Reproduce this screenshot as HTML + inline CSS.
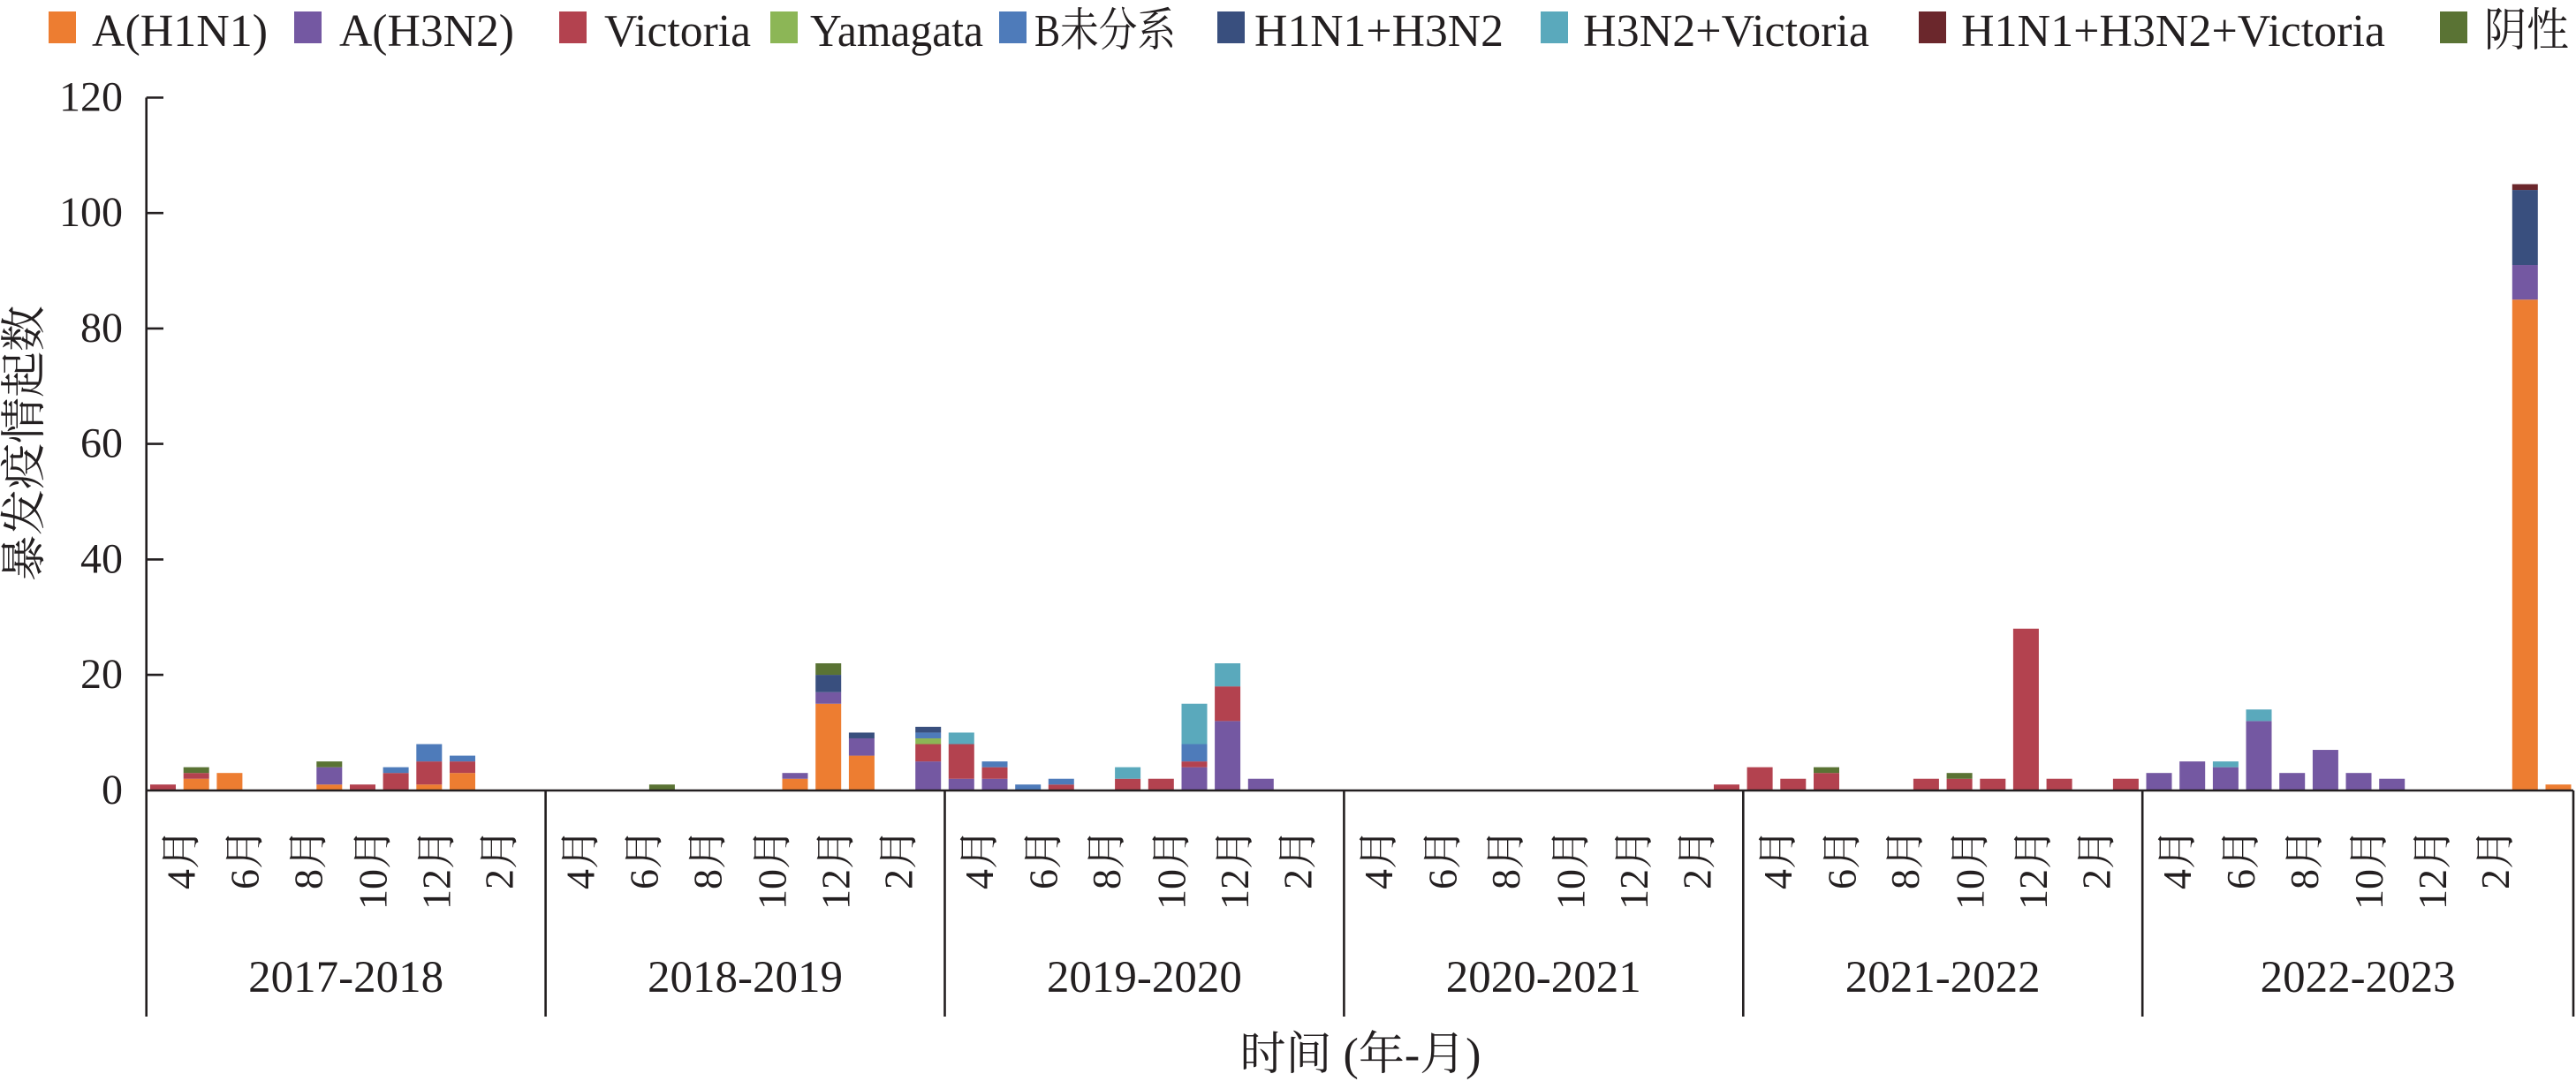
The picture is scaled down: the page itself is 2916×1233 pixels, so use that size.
<!DOCTYPE html>
<html><head><meta charset="utf-8"><style>
html,body{margin:0;padding:0;background:#fff;}
svg{display:block;}
text{font-family:"Liberation Serif","Noto Serif CJK SC","Noto Sans CJK SC",serif;fill:#231f20;}
</style></head><body>
<svg width="2916" height="1233" viewBox="0 0 2916 1233" xmlns="http://www.w3.org/2000/svg">
<rect width="2916" height="1233" fill="#fff"/>
<!-- Legend -->
<g font-size="52">
<rect x="55" y="13" width="31" height="36" fill="#ED7D31"/><text x="104" y="52" textLength="199" lengthAdjust="spacingAndGlyphs">A(H1N1)</text>
<rect x="333" y="13" width="31" height="36" fill="#7458A2"/><text x="384" y="52" textLength="198" lengthAdjust="spacingAndGlyphs">A(H3N2)</text>
<rect x="633" y="13" width="31" height="36" fill="#B3424F"/><text x="684" y="52" textLength="166" lengthAdjust="spacingAndGlyphs">Victoria</text>
<rect x="872" y="13" width="31" height="36" fill="#8CB656"/><text x="917" y="52" textLength="196" lengthAdjust="spacingAndGlyphs">Yamagata</text>
<rect x="1131" y="13" width="31" height="36" fill="#4E7BBA"/><text x="1171" y="52" textLength="160" lengthAdjust="spacingAndGlyphs">B未分系</text>
<rect x="1378" y="13" width="31" height="36" fill="#394F7E"/><text x="1420" y="52" textLength="282" lengthAdjust="spacingAndGlyphs">H1N1+H3N2</text>
<rect x="1744" y="13" width="31" height="36" fill="#5AA9BC"/><text x="1792" y="52" textLength="324" lengthAdjust="spacingAndGlyphs">H3N2+Victoria</text>
<rect x="2172" y="13" width="31" height="36" fill="#6B272C"/><text x="2220" y="52" textLength="480" lengthAdjust="spacingAndGlyphs">H1N1+H3N2+Victoria</text>
<rect x="2762" y="13" width="31" height="36" fill="#5A7334"/><text x="2812" y="52" textLength="96" lengthAdjust="spacingAndGlyphs">阴性</text>
</g>

<!-- Bars -->
<g>
<!-- Season 1 -->
<rect x="170.0" y="888.26" width="29" height="6.54" fill="#B3424F"/>
<rect x="207.7" y="881.73" width="29" height="13.07" fill="#ED7D31"/>
<rect x="207.7" y="875.19" width="29" height="6.54" fill="#B3424F"/>
<rect x="207.7" y="868.66" width="29" height="6.54" fill="#5A7334"/>
<rect x="245.4" y="875.19" width="29" height="19.61" fill="#ED7D31"/>
<rect x="358.3" y="888.26" width="29" height="6.54" fill="#ED7D31"/>
<rect x="358.3" y="868.66" width="29" height="19.61" fill="#7458A2"/>
<rect x="358.3" y="862.12" width="29" height="6.54" fill="#5A7334"/>
<rect x="396.0" y="888.26" width="29" height="6.54" fill="#B3424F"/>
<rect x="433.6" y="875.19" width="29" height="19.61" fill="#B3424F"/>
<rect x="433.6" y="868.66" width="29" height="6.54" fill="#4E7BBA"/>
<rect x="471.3" y="888.26" width="29" height="6.54" fill="#ED7D31"/>
<rect x="471.3" y="862.12" width="29" height="26.14" fill="#B3424F"/>
<rect x="471.3" y="842.51" width="29" height="19.61" fill="#4E7BBA"/>
<rect x="509.0" y="875.19" width="29" height="19.61" fill="#ED7D31"/>
<rect x="509.0" y="862.12" width="29" height="13.07" fill="#B3424F"/>
<rect x="509.0" y="855.58" width="29" height="6.54" fill="#4E7BBA"/>
<!-- Season 2 -->
<rect x="734.9" y="888.26" width="29" height="6.54" fill="#5A7334"/>
<rect x="885.5" y="881.73" width="29" height="13.07" fill="#ED7D31"/>
<rect x="885.5" y="875.19" width="29" height="6.54" fill="#7458A2"/>
<rect x="923.2" y="796.76" width="29" height="98.04" fill="#ED7D31"/>
<rect x="923.2" y="783.69" width="29" height="13.07" fill="#7458A2"/>
<rect x="923.2" y="764.08" width="29" height="19.61" fill="#394F7E"/>
<rect x="923.2" y="751.01" width="29" height="13.07" fill="#5A7334"/>
<rect x="960.9" y="855.58" width="29" height="39.22" fill="#ED7D31"/>
<rect x="960.9" y="835.98" width="29" height="19.61" fill="#7458A2"/>
<rect x="960.9" y="829.44" width="29" height="6.54" fill="#394F7E"/>
<rect x="1036.2" y="862.12" width="29" height="32.68" fill="#7458A2"/>
<rect x="1036.2" y="842.51" width="29" height="19.61" fill="#B3424F"/>
<rect x="1036.2" y="835.98" width="29" height="6.54" fill="#8CB656"/>
<rect x="1036.2" y="829.44" width="29" height="6.54" fill="#4E7BBA"/>
<rect x="1036.2" y="822.90" width="29" height="6.54" fill="#394F7E"/>
<!-- Season 3 -->
<rect x="1073.8" y="881.73" width="29" height="13.07" fill="#7458A2"/>
<rect x="1073.8" y="842.51" width="29" height="39.22" fill="#B3424F"/>
<rect x="1073.8" y="829.44" width="29" height="13.07" fill="#5AA9BC"/>
<rect x="1111.5" y="881.73" width="29" height="13.07" fill="#7458A2"/>
<rect x="1111.5" y="868.66" width="29" height="13.07" fill="#B3424F"/>
<rect x="1111.5" y="862.12" width="29" height="6.54" fill="#4E7BBA"/>
<rect x="1149.2" y="888.26" width="29" height="6.54" fill="#4E7BBA"/>
<rect x="1186.8" y="888.26" width="29" height="6.54" fill="#B3424F"/>
<rect x="1186.8" y="881.73" width="29" height="6.54" fill="#4E7BBA"/>
<rect x="1262.1" y="881.73" width="29" height="13.07" fill="#B3424F"/>
<rect x="1262.1" y="868.66" width="29" height="13.07" fill="#5AA9BC"/>
<rect x="1299.8" y="881.73" width="29" height="13.07" fill="#B3424F"/>
<rect x="1337.5" y="868.66" width="29" height="26.14" fill="#7458A2"/>
<rect x="1337.5" y="862.12" width="29" height="6.54" fill="#B3424F"/>
<rect x="1337.5" y="842.51" width="29" height="19.61" fill="#4E7BBA"/>
<rect x="1337.5" y="796.76" width="29" height="45.75" fill="#5AA9BC"/>
<rect x="1375.1" y="816.37" width="29" height="78.43" fill="#7458A2"/>
<rect x="1375.1" y="777.15" width="29" height="39.22" fill="#B3424F"/>
<rect x="1375.1" y="751.01" width="29" height="26.14" fill="#5AA9BC"/>
<rect x="1412.8" y="881.73" width="29" height="13.07" fill="#7458A2"/>
<!-- Season 4 -->
<rect x="1940.0" y="888.26" width="29" height="6.54" fill="#B3424F"/>
<!-- Season 5 -->
<rect x="1977.6" y="868.66" width="29" height="26.14" fill="#B3424F"/>
<rect x="2015.3" y="881.73" width="29" height="13.07" fill="#B3424F"/>
<rect x="2053.0" y="875.19" width="29" height="19.61" fill="#B3424F"/>
<rect x="2053.0" y="868.66" width="29" height="6.54" fill="#5A7334"/>
<rect x="2165.9" y="881.73" width="29" height="13.07" fill="#B3424F"/>
<rect x="2203.6" y="881.73" width="29" height="13.07" fill="#B3424F"/>
<rect x="2203.6" y="875.19" width="29" height="6.54" fill="#5A7334"/>
<rect x="2241.3" y="881.73" width="29" height="13.07" fill="#B3424F"/>
<rect x="2278.9" y="711.79" width="29" height="183.01" fill="#B3424F"/>
<rect x="2316.6" y="881.73" width="29" height="13.07" fill="#B3424F"/>
<rect x="2391.9" y="881.73" width="29" height="13.07" fill="#B3424F"/>
<!-- Season 6 -->
<rect x="2429.5" y="875.19" width="29" height="19.61" fill="#7458A2"/>
<rect x="2467.2" y="862.12" width="29" height="32.68" fill="#7458A2"/>
<rect x="2504.9" y="868.66" width="29" height="26.14" fill="#7458A2"/>
<rect x="2504.9" y="862.12" width="29" height="6.54" fill="#5AA9BC"/>
<rect x="2542.5" y="816.37" width="29" height="78.43" fill="#7458A2"/>
<rect x="2542.5" y="803.30" width="29" height="13.07" fill="#5AA9BC"/>
<rect x="2580.2" y="875.19" width="29" height="19.61" fill="#7458A2"/>
<rect x="2617.9" y="849.05" width="29" height="45.75" fill="#7458A2"/>
<rect x="2655.5" y="875.19" width="29" height="19.61" fill="#7458A2"/>
<rect x="2693.2" y="881.73" width="29" height="13.07" fill="#7458A2"/>
<rect x="2843.8" y="339.24" width="29" height="555.56" fill="#ED7D31"/>
<rect x="2843.8" y="300.02" width="29" height="39.22" fill="#7458A2"/>
<rect x="2843.8" y="215.06" width="29" height="84.97" fill="#394F7E"/>
<rect x="2843.8" y="208.52" width="29" height="6.54" fill="#6B272C"/>
<rect x="2881.5" y="888.26" width="29" height="6.54" fill="#ED7D31"/>
</g>

<!-- Axes -->
<g stroke="#231f20" stroke-width="2.6" fill="none">
<line x1="165.7" y1="110.5" x2="165.7" y2="1151"/>
<line x1="164.5" y1="895" x2="2913" y2="895"/>
<line x1="165.7" y1="110.5" x2="185" y2="110.5"/>
<line x1="165.7" y1="241.2" x2="185" y2="241.2"/>
<line x1="165.7" y1="371.9" x2="185" y2="371.9"/>
<line x1="165.7" y1="502.6" x2="185" y2="502.6"/>
<line x1="165.7" y1="633.4" x2="185" y2="633.4"/>
<line x1="165.7" y1="764.1" x2="185" y2="764.1"/>
<line x1="617.6" y1="895" x2="617.6" y2="1151"/>
<line x1="1069.5" y1="895" x2="1069.5" y2="1151"/>
<line x1="1521.4" y1="895" x2="1521.4" y2="1151"/>
<line x1="1973.3" y1="895" x2="1973.3" y2="1151"/>
<line x1="2425.2" y1="895" x2="2425.2" y2="1151"/>
<line x1="2913" y1="895" x2="2913" y2="1151"/>
</g>

<!-- Y tick labels -->
<g font-size="48" text-anchor="end">
<text x="139" y="125.5">120</text>
<text x="139" y="256.2">100</text>
<text x="139" y="386.9">80</text>
<text x="139" y="517.6">60</text>
<text x="139" y="648.4">40</text>
<text x="139" y="779.1">20</text>
<text x="139" y="909.8">0</text>
</g>

<!-- Y axis title -->
<text font-size="52" text-anchor="middle" transform="translate(45,502) rotate(-90)">暴发疫情起数</text>

<!-- Month labels -->
<g font-size="46" text-anchor="end">
<text transform="translate(220.4,938) rotate(-90)">4月</text>
<text transform="translate(292.7,938) rotate(-90)">6月</text>
<text transform="translate(364.4,938) rotate(-90)">8月</text>
<text transform="translate(437.7,938) rotate(-90)">10月</text>
<text transform="translate(509.4,938) rotate(-90)">12月</text>
<text transform="translate(580.7,938) rotate(-90)">2月</text>

<text transform="translate(672.3,938) rotate(-90)">4月</text>
<text transform="translate(744.6,938) rotate(-90)">6月</text>
<text transform="translate(816.3,938) rotate(-90)">8月</text>
<text transform="translate(889.6,938) rotate(-90)">10月</text>
<text transform="translate(961.3,938) rotate(-90)">12月</text>
<text transform="translate(1032.6,938) rotate(-90)">2月</text>

<text transform="translate(1124.2,938) rotate(-90)">4月</text>
<text transform="translate(1196.5,938) rotate(-90)">6月</text>
<text transform="translate(1268.2,938) rotate(-90)">8月</text>
<text transform="translate(1341.5,938) rotate(-90)">10月</text>
<text transform="translate(1413.2,938) rotate(-90)">12月</text>
<text transform="translate(1484.5,938) rotate(-90)">2月</text>

<text transform="translate(1576.1,938) rotate(-90)">4月</text>
<text transform="translate(1648.4,938) rotate(-90)">6月</text>
<text transform="translate(1720.1,938) rotate(-90)">8月</text>
<text transform="translate(1793.4,938) rotate(-90)">10月</text>
<text transform="translate(1865.1,938) rotate(-90)">12月</text>
<text transform="translate(1936.4,938) rotate(-90)">2月</text>

<text transform="translate(2028.0,938) rotate(-90)">4月</text>
<text transform="translate(2100.3,938) rotate(-90)">6月</text>
<text transform="translate(2172.0,938) rotate(-90)">8月</text>
<text transform="translate(2245.3,938) rotate(-90)">10月</text>
<text transform="translate(2317.0,938) rotate(-90)">12月</text>
<text transform="translate(2388.3,938) rotate(-90)">2月</text>

<text transform="translate(2479.9,938) rotate(-90)">4月</text>
<text transform="translate(2552.2,938) rotate(-90)">6月</text>
<text transform="translate(2623.9,938) rotate(-90)">8月</text>
<text transform="translate(2697.2,938) rotate(-90)">10月</text>
<text transform="translate(2768.9,938) rotate(-90)">12月</text>
<text transform="translate(2840.2,938) rotate(-90)">2月</text>
</g>

<!-- Season labels -->
<g font-size="51" text-anchor="middle">
<text x="391.6" y="1123">2017-2018</text>
<text x="843.5" y="1123">2018-2019</text>
<text x="1295.4" y="1123">2019-2020</text>
<text x="1747.3" y="1123">2020-2021</text>
<text x="2199.2" y="1123">2021-2022</text>
<text x="2669.1" y="1123">2022-2023</text>
</g>

<!-- X axis title -->
<text x="1540" y="1211" font-size="52" text-anchor="middle">时间 (年-月)</text>
</svg>
</body></html>
